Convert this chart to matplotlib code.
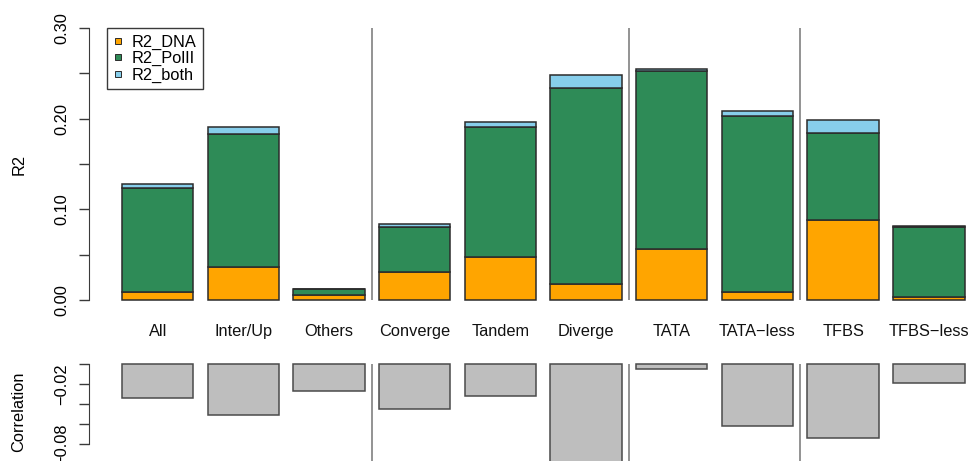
import matplotlib.pyplot as plt
import matplotlib.transforms as mtransforms
from matplotlib.lines import Line2D
import numpy as np

plt.rcParams["font.family"] = ["Liberation Sans", "DejaVu Sans"]

W, H = 972, 461
FS = 11.8

groups = ["All", "Inter/Up", "Others", "Converge", "Tandem", "Diverge",
          "TATA", "TATA\u2212less", "TFBS", "TFBS\u2212less"]
r2_dna = [0.0085, 0.0368, 0.0052, 0.0305, 0.047, 0.018, 0.0566, 0.0085, 0.088, 0.0037]
r2_polii = [0.115, 0.146, 0.0069, 0.050, 0.144, 0.2155, 0.1964, 0.1945, 0.096, 0.0772]
r2_both = [0.0041, 0.0085, 0.0, 0.0037, 0.0052, 0.015, 0.0015, 0.0055, 0.0147, 0.0005]
correlation = [-0.034, -0.051, -0.027, -0.045, -0.032, -0.11, -0.005, -0.062, -0.074, -0.019]
dividers_after = [2, 5, 7]   # vertical separators follow these bars

C_DNA = "#FFA500"
C_POL = "#2E8B57"
C_BOTH = "#87CEEB"
C_COR = "#BEBEBE"
C_EDGE = "#2b2b2b"
C_AX = "#3a3a3a"
C_SEP = "#808080"

# R barplot geometry: width 1, space 0.2
xs = 0.7 + 1.2 * np.arange(len(groups))
sep_x = [xs[i] + 0.6 for i in dividers_after]

px_unit = 71.4
x_left = 0.2 - (122 - 89) / px_unit
x_right = 0.2 + (W - 122) / px_unit


def px_axes(left, top, right, bottom):
    return [left / W, 1 - bottom / H, (right - left) / W, (bottom - top) / H]


fig = plt.figure(figsize=(W / 100, H / 100), dpi=100)

# ---- top panel: stacked R2 -------------------------------------------------
ax = fig.add_axes(px_axes(89, 20, W, 305))
r2_px = 906.7
ax.set_ylim(-(305 - 300) / r2_px, 0.30 + (28 - 20) / r2_px)
ax.set_xlim(x_left, x_right)

bkw = dict(width=1.0, edgecolor=C_EDGE, linewidth=1.1, zorder=3)
ax.bar(xs, r2_dna, color=C_DNA, **bkw)
bottom2 = np.array(r2_dna)
ax.bar(xs, r2_polii, bottom=bottom2, color=C_POL, **bkw)
bottom3 = bottom2 + np.array(r2_polii)
ax.bar(xs, r2_both, bottom=bottom3, color=C_BOTH, **bkw)

ax.vlines(sep_x, 0, 0.30, color=C_SEP, lw=1.2, zorder=2)

for s in ["top", "right", "bottom"]:
    ax.spines[s].set_visible(False)
ax.spines["left"].set_bounds(0, 0.30)
ax.spines["left"].set_color(C_AX)
ax.set_xticks([])
ax.set_yticks(np.arange(0, 0.301, 0.05))
ax.set_yticklabels(["0.00", "", "0.10", "", "0.20", "", "0.30"])
ax.tick_params(axis="y", direction="out", length=7, width=1, color=C_AX,
               pad=7, labelsize=FS)
for t in ax.get_yticklabels():
    t.set_rotation(90)
    t.set_va("center")

# category names sit between the panels
lab_tf = mtransforms.blended_transform_factory(ax.transData, fig.transFigure)
for x, g in zip(xs, groups):
    ax.text(x, 1 - 336 / H, g, transform=lab_tf, ha="center", va="baseline",
            fontsize=FS, color="#111111")

handles = [Line2D([], [], ls="none", marker="s", markersize=5,
                  markerfacecolor=c, markeredgecolor=C_EDGE,
                  markeredgewidth=0.7)
           for c in (C_DNA, C_POL, C_BOTH)]
leg = ax.legend(handles, ["R2_DNA", "R2_PolII", "R2_both"],
                loc="upper left", bbox_to_anchor=(107 / W, 1 - 28 / H),
                bbox_transform=fig.transFigure, borderaxespad=0,
                fontsize=FS, handlelength=0.6, handletextpad=0.5,
                labelspacing=0.08, borderpad=0.4,
                fancybox=False, framealpha=1)
leg.get_frame().set_edgecolor(C_AX)
leg.get_frame().set_linewidth(1.0)

fig.text(19 / W, 1 - 164 / H, "R2", rotation=90, ha="center", va="center",
         fontsize=FS)

# ---- bottom panel: correlation ---------------------------------------------
ax2 = fig.add_axes(px_axes(89, 355, W, H))
cor_px = 1000.0
ax2.set_ylim(-(H - 364) / cor_px, (364 - 355) / cor_px)
ax2.set_xlim(x_left, x_right)
ax2.bar(xs, correlation, width=1.0, color=C_COR, edgecolor="#4a4a4a",
        linewidth=1.1, zorder=3)
ax2.vlines(sep_x, -0.3, 0, color=C_SEP, lw=1.2, zorder=2)

for s in ["top", "right", "bottom"]:
    ax2.spines[s].set_visible(False)
ax2.spines["left"].set_bounds(-0.08, 0)
ax2.spines["left"].set_color(C_AX)
ax2.set_xticks([])
ax2.set_yticks([0, -0.02, -0.04, -0.06, -0.08])
ax2.set_yticklabels(["", "\u22120.02", "", "", "\u22120.08"])
ax2.tick_params(axis="y", direction="out", length=7, width=1, color=C_AX,
                pad=7, labelsize=FS)
for t in ax2.get_yticklabels():
    t.set_rotation(90)
    t.set_va("center")

fig.text(19 / W, 1 - 412 / H, "Correlation", rotation=90, ha="center",
         va="center", fontsize=FS)

fig.savefig("out.png", dpi=100, facecolor="white")
